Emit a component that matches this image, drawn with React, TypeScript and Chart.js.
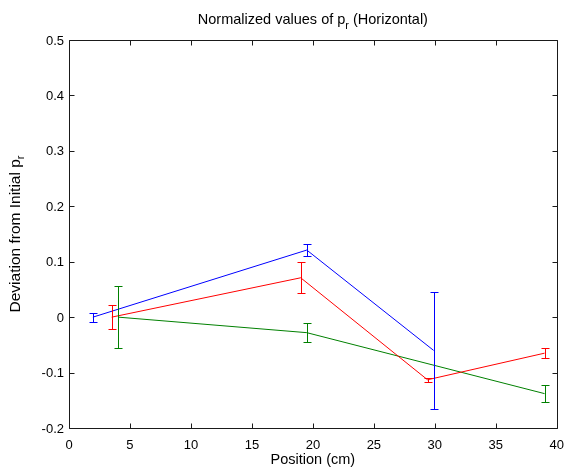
import React, { useEffect, useRef } from "react";
import { Chart, registerables } from "chart.js";

Chart.register(...registerables);

// ---- data ----
const xTickValues = [0, 5, 10, 15, 20, 25, 30, 35, 40];
const yTickValues = [-0.2, -0.1, 0, 0.1, 0.2, 0.3, 0.4, 0.5];

const blueX = [1.96, 19.5, 29.9];
const blueY = [0.0, 0.121, -0.06];
const blueErr = [0.008, 0.011, 0.106];

const redX = [3.5, 19.0, 29.4, 39.0];
const redY = [0.0, 0.071, -0.113, -0.065];
const redErr = [0.022, 0.028, 0.004, 0.009];

const greenX = [4.04, 19.5, 39.0];
const greenY = [0.0, -0.028, -0.138];
const greenErr = [0.056, 0.017, 0.015];

const seriesColors = ["#0000ff", "#ff0000", "#008000"];

const titleMain = "Normalized values of p";
const titleSub = "r";
const titleRest = " (Horizontal)";
const yLabelMain = "Deviation from Initial p";
const yLabelSub = "r";
const xLabel = "Position (cm)";

const FONT = '"Liberation Sans", Arial, Helvetica, sans-serif';
const FS = 13;

const toPts = (xs: number[], ys: number[]) => xs.map((x, i) => ({ x, y: ys[i] }));

export default function App() {
  const ref = useRef<HTMLCanvasElement>(null);

  useEffect(() => {
    document.body.style.margin = "0";
    const canvas = ref.current;
    if (!canvas) return;

    const errs: number[][] = [blueErr, redErr, greenErr];

    const errorBars = {
      id: "errorBars",
      afterDatasetsDraw(chart: any) {
        const ctx = chart.ctx;
        const xs = chart.scales.x;
        const ys = chart.scales.y;
        chart.data.datasets.forEach((ds: any, di: number) => {
          ctx.save();
          ctx.strokeStyle = seriesColors[di];
          ctx.lineWidth = 1;
          ctx.beginPath();
          ds.data.forEach((p: any, i: number) => {
            const e = errs[di][i];
            const px = Math.round(xs.getPixelForValue(p.x)) + 0.5;
            const yt = Math.round(ys.getPixelForValue(p.y + e)) + 0.5;
            const yb = Math.round(ys.getPixelForValue(p.y - e)) + 0.5;
            ctx.moveTo(px, yt);
            ctx.lineTo(px, yb);
            ctx.moveTo(px - 4, yt);
            ctx.lineTo(px + 4, yt);
            ctx.moveTo(px - 4, yb);
            ctx.lineTo(px + 4, yb);
          });
          ctx.stroke();
          ctx.restore();
        });
      },
    };

    const drawSubText = (
      ctx: any,
      size: number,
      subSize: number,
      subDrop: number,
      main: string,
      sub: string,
      rest: string,
      cx: number,
      y: number
    ) => {
      ctx.font = `${size}px ${FONT}`;
      const w1 = ctx.measureText(main).width;
      const w3 = rest ? ctx.measureText(rest).width : 0;
      ctx.font = `${subSize}px ${FONT}`;
      const w2 = ctx.measureText(sub).width;
      const total = w1 + w2 + w3;
      let x = cx - total / 2;
      ctx.textAlign = "left";
      ctx.textBaseline = "alphabetic";
      ctx.font = `${size}px ${FONT}`;
      ctx.fillText(main, x, y);
      x += w1;
      ctx.font = `${subSize}px ${FONT}`;
      ctx.fillText(sub, x, y + subDrop);
      x += w2;
      ctx.font = `${size}px ${FONT}`;
      if (rest) ctx.fillText(rest, x, y);
    };

    const frame = {
      id: "frame",
      afterDraw(chart: any) {
        const ctx = chart.ctx;
        const { left, right, top, bottom } = chart.chartArea;
        const xs = chart.scales.x;
        const ys = chart.scales.y;
        ctx.save();
        ctx.strokeStyle = "#1a1a1a";
        ctx.lineWidth = 1;
        const L = Math.round(left) + 0.5;
        const R = Math.round(right) + 0.5;
        const T = Math.round(top) + 0.5;
        const B = Math.round(bottom) + 0.5;
        ctx.beginPath();
        ctx.rect(L, T, R - L, B - T);
        const tl = 5;
        xTickValues.forEach((v) => {
          const px = Math.round(xs.getPixelForValue(v)) + 0.5;
          ctx.moveTo(px, B);
          ctx.lineTo(px, B - tl);
          ctx.moveTo(px, T);
          ctx.lineTo(px, T + tl);
        });
        yTickValues.forEach((v) => {
          const py = Math.round(ys.getPixelForValue(v)) + 0.5;
          ctx.moveTo(L, py);
          ctx.lineTo(L + tl, py);
          ctx.moveTo(R, py);
          ctx.lineTo(R - tl, py);
        });
        ctx.stroke();

        ctx.fillStyle = "#000";
        drawSubText(ctx, 14.5, 11, 5, titleMain, titleSub, titleRest, (left + right) / 2, 23.5);

        ctx.save();
        ctx.translate(20, (top + bottom) / 2);
        ctx.rotate(-Math.PI / 2);
        drawSubText(ctx, 15.5, 11, 4, yLabelMain, yLabelSub, "", 0, 0);
        ctx.restore();
        ctx.restore();
      },
    };

    const lineDs = (label: string, xs: number[], ys: number[], color: string) => ({
      label,
      data: toPts(xs, ys),
      borderColor: color,
      backgroundColor: color,
      borderWidth: 1,
      pointRadius: 0,
      showLine: true,
      tension: 0,
    });

    const tickFont = { family: FONT, size: FS };

    const chart = new Chart(canvas, {
      type: "scatter",
      data: {
        datasets: [
          lineDs("blue", blueX, blueY, seriesColors[0]),
          lineDs("red", redX, redY, seriesColors[1]),
          lineDs("green", greenX, greenY, seriesColors[2]),
        ],
      },
      options: {
        responsive: false,
        animation: false,
        layout: { padding: { top: 40, right: 10, left: 0, bottom: 0 } },
        plugins: {
          legend: { display: false },
          tooltip: { enabled: false },
          title: { display: false },
        },
        scales: {
          x: {
            type: "linear",
            min: 0,
            max: 40,
            afterFit: (s: any) => {
              s.height = 41;
            },
            afterBuildTicks: (s: any) => {
              s.ticks = xTickValues.map((v) => ({ value: v }));
            },
            ticks: {
              font: tickFont,
              color: "#000",
              padding: 10,
              maxRotation: 0,
              autoSkip: false,
              callback: (v: any) => String(v),
            },
            grid: { display: false, drawTicks: false },
            border: { display: false },
            title: {
              display: true,
              text: xLabel,
              font: { family: FONT, size: 14.5 },
              color: "#000",
              padding: { top: 0, bottom: 0 },
            },
          },
          y: {
            type: "linear",
            min: -0.2,
            max: 0.5,
            afterFit: (s: any) => {
              s.width = 69;
            },
            afterBuildTicks: (s: any) => {
              s.ticks = yTickValues.map((v) => ({ value: v }));
            },
            ticks: {
              font: tickFont,
              color: "#000",
              padding: 5,
              labelOffset: 1,
              autoSkip: false,
              callback: (v: any) => String(parseFloat(Number(v).toFixed(1))),
            },
            grid: { display: false, drawTicks: false },
            border: { display: false },
          },
        },
      },
      plugins: [errorBars, frame],
    } as any);

    return () => chart.destroy();
  }, []);

  return <canvas ref={ref} width={574} height={469} style={{ display: "block" }} />;
}
